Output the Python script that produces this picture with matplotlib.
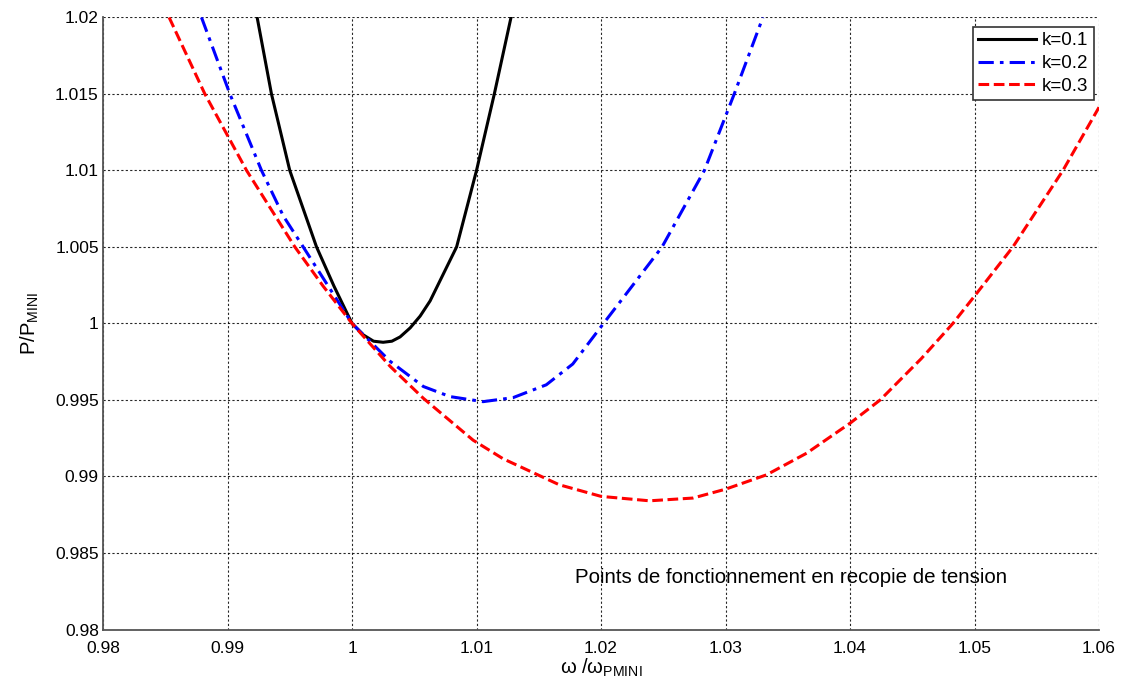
import matplotlib
matplotlib.use("Agg")
import matplotlib.pyplot as plt
from matplotlib.ticker import FuncFormatter

plt.rcParams["font.family"] = ["Liberation Sans", "DejaVu Sans"]
plt.rcParams["mathtext.fontset"] = "custom"
plt.rcParams["mathtext.rm"] = "Liberation Sans"

# valeurs
x_k1 = [0.99238, 0.99353, 0.99500, 0.99715, 0.99855, 1.00000, 1.00091, 1.00173,
        1.00250, 1.00320, 1.00386, 1.00467, 1.00547, 1.00627, 1.00840, 1.01000,
        1.01143, 1.01277]
y_k1 = [1.02000, 1.01500, 1.01000, 1.00500, 1.00244, 1.00000, 0.99925, 0.99884,
        0.99877, 0.99884, 0.99912, 0.99971, 1.00048, 1.00147, 1.00500, 1.01000,
        1.01500, 1.02000]

x_k2 = [0.98791, 0.99019, 0.99273, 0.99447, 0.99608, 0.99809, 1.00000, 1.00307,
        1.00573, 1.00787, 1.01053, 1.01293, 1.01560, 1.01773, 1.02020, 1.02260,
        1.02490, 1.02830, 1.03070, 1.03300]
y_k2 = [1.02000, 1.01500, 1.01000, 1.00704, 1.00500, 1.00244, 1.00000, 0.99752,
        0.99588, 0.99522, 0.99489, 0.99515, 0.99599, 0.99735, 1.00000, 1.00255,
        1.00500, 1.01000, 1.01500, 1.02000]

x_k3 = [0.98531, 0.98818, 0.99153, 0.99541, 0.99768, 1.00000, 1.00307, 1.00573,
        1.00973, 1.01213, 1.01664, 1.02000, 1.02389, 1.02738, 1.03000, 1.03330,
        1.03651, 1.04000, 1.04242, 1.04572, 1.04826, 1.05000, 1.05308, 1.05710,
        1.06000]
y_k3 = [1.02000, 1.01500, 1.01000, 1.00500, 1.00244, 1.00000, 0.99719, 0.99511,
        0.99237, 0.99116, 0.98946, 0.98870, 0.98841, 0.98859, 0.98917, 0.99011,
        0.99152, 0.99348, 0.99500, 0.99770, 1.00000, 1.00179, 1.00500, 1.01000,
        1.01413]

x_ticks = [0.98, 0.99, 1.00, 1.01, 1.02, 1.03, 1.04, 1.05, 1.06]
y_ticks = [0.98, 0.985, 0.99, 0.995, 1.00, 1.005, 1.01, 1.015, 1.02]

fig = plt.figure(figsize=(11.27, 6.91), dpi=100)
ax = fig.add_axes([0.0914, 0.089, 0.8838, 0.8858])

ax.plot(x_k1, y_k1, color="black", lw=2.2, ls="-", label="k=0.1")
ax.plot(x_k2, y_k2, color="blue", lw=2.2, ls=(0, (5, 2, 1.2, 2)), label="k=0.2")
ax.plot(x_k3, y_k3, color="red", lw=2.2, ls=(0, (3.5, 1.5)), label="k=0.3")

ax.set_xlim(0.98, 1.06)
ax.set_ylim(0.98, 1.02)
ax.set_xticks(x_ticks)
ax.set_yticks(y_ticks)
fmt = FuncFormatter(lambda v, p: "%g" % round(v, 4))
ax.xaxis.set_major_formatter(fmt)
ax.yaxis.set_major_formatter(fmt)
ax.tick_params(labelsize=12.5, length=0)
ax.tick_params(axis="x", pad=8)
ax.tick_params(axis="y", pad=3)

ax.grid(True, color="black", ls=(0, (2, 2)), lw=0.8, alpha=0.85)
for s in ["top", "right"]:
    ax.spines[s].set_visible(False)
for s in ["left", "bottom"]:
    ax.spines[s].set_color("#555555")
    ax.spines[s].set_linewidth(1.3)

ax.set_xlabel("ω /ω$_{\\mathrm{PMINI}}$", fontsize=14.5, labelpad=1)
ax.set_ylabel("P/P$_{\\mathrm{MINI}}$", fontsize=14.5, labelpad=10)

ax.text(1.0179, 0.98343, "Points de fonctionnement en recopie de tension",
        fontsize=14.8, va="center", ha="left")

leg = ax.legend(loc="upper right", bbox_to_anchor=(0.995, 0.985), borderaxespad=0,
                fontsize=13.5, fancybox=False, framealpha=1, edgecolor="#333333",
                handlelength=3.1, handletextpad=0.3, labelspacing=0.3,
                borderpad=0.3)
leg.get_frame().set_linewidth(1.2)

fig.savefig("out.png", dpi=100)
